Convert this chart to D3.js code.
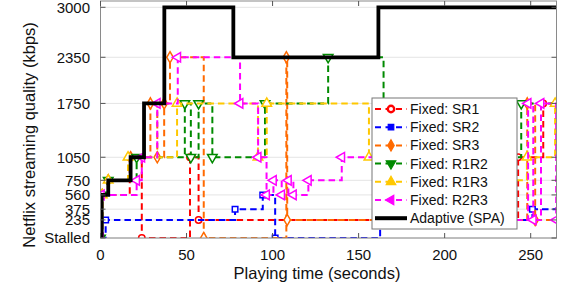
<!DOCTYPE html>
<html><head><meta charset="utf-8">
<script src="https://cdn.jsdelivr.net/npm/d3@7"></script>
<style>body{margin:0;background:#fff;} svg{display:block;font-family:"Liberation Sans",Arial,sans-serif;}</style>
</head><body><svg id="c" width="565" height="283"></svg>
<script>
// ---- data ----
const yTickValues = [0, 235, 375, 560, 750, 1050, 1750, 2350, 3000];
const yTickLabels = ["Stalled", "235", "375", "560", "750", "1050", "1750", "2350", "3000"];
const xTickValues = [0, 50, 100, 150, 200, 250];
const tEnd = 265;

const seriesNames = ["Fixed: SR1", "Fixed: SR2", "Fixed: SR3", "Fixed: R1R2", "Fixed: R1R3", "Fixed: R2R3", "Adaptive (SPA)"];

const sr1Times  = [0, 1, 17, 24, 52, 57, 242.7, 257.3];
const sr1Values = [0, 560, 1050, 0, 1050, 235, 1050, 1750];

const sr2Times  = [0, 3, 78.2, 94.3, 101.5, 162.5, 251];
const sr2Values = [0, 235, 375, 560, 0, 235, 375];

const sr3Times  = [0, 1, 4.5, 17.5, 29, 33, 37, 40.4, 60, 108, 108.5, 248, 252.6];
const sr3Values = [0, 560, 750, 1050, 1750, 1050, 1750, 2350, 0, 2350, 235, 1750, 235];

const r1r2Times  = [0, 1, 4.5, 21, 49, 52.5, 57, 65, 95.6, 132.3, 164.5, 200, 244.5];
const r1r2Values = [0, 560, 750, 1050, 1750, 1050, 1750, 1050, 1750, 2350, 1750, 1050, 1750];

const r1r3Times  = [0, 1, 4.5, 16, 44.5, 91.5, 96.6, 156, 200, 247.8, 264.2];
const r1r3Values = [0, 560, 750, 1050, 1750, 1050, 1750, 1050, 750, 1050, 1750];

const r2r3Times  = [0, 0.5, 21, 24, 33, 44.9, 81.1, 91.6, 96.5, 100.5, 105.3, 109.2, 112.1, 120.8, 140.2, 200, 248.5, 251.5, 256, 264.8];
const r2r3Values = [0, 560, 750, 1050, 1750, 2350, 1750, 1050, 560, 750, 560, 750, 560, 750, 1050, 235, 1750, 235, 1750, 235];

const spaTimes  = [0, 0.7, 4.5, 17.5, 25.3, 37.1, 77.2, 161.5];
const spaValues = [0, 560, 750, 1050, 1750, 3000, 2350, 3000];

const seriesColors = ["#ff0000", "#0000ff", "#ff6a00", "#008a00", "#ffc800", "#ff00ff", "#000000"];
const seriesSymbols = ["circle", "square", "diamond", "tdown", "tup", "tleft", null];

// ---- build ----
const series = [
  [sr1Times, sr1Values], [sr2Times, sr2Values], [sr3Times, sr3Values],
  [r1r2Times, r1r2Values], [r1r3Times, r1r3Values], [r2r3Times, r2r3Values],
  [spaTimes, spaValues]
].map((tv, i) => ({
  name: seriesNames[i], color: seriesColors[i], symbol: seriesSymbols[i],
  pts: tv[0].map((t, j) => ({t, v: tv[1][j]}))
}));

const svg = d3.select("#c");
const x = d3.scaleLinear().domain([0, tEnd]).range([100.5, 556.5]);
const y = d3.scaleLinear().domain([0, 3000]).range([238, 7.3]);
const pTop = 1, pBottom = y(0), pLeft = x(0), pRight = x(tEnd);

svg.append("defs").append("clipPath").attr("id", "clip")
  .append("rect").attr("x", pLeft).attr("y", pTop).attr("width", pRight - pLeft).attr("height", pBottom - pTop);

// grid
svg.append("g").selectAll("line").data(yTickValues).join("line")
  .attr("x1", pLeft).attr("x2", pRight).attr("y1", d => y(d)).attr("y2", d => y(d))
  .attr("stroke", "#e4e4e4").attr("stroke-width", 1);

function symbolPath(sym, size) {
  if (sym === "circle") return d3.symbol(d3.symbolCircle, size * 0.9)();
  if (sym === "square") return d3.symbol(d3.symbolSquare, size * 0.85)();
  if (sym === "diamond") return d3.symbol(d3.symbolDiamond, size)();
  return d3.symbol(d3.symbolTriangle, size * 1.1)();
}
function symbolRot(sym) {
  if (sym === "tdown") return 180;
  if (sym === "tleft") return -90;
  return 0;
}

const line = d3.line().x(d => x(d.t)).y(d => y(d.v)).curve(d3.curveStepAfter);
const plot = svg.append("g").attr("clip-path", "url(#clip)");

series.forEach(s => {
  const full = s.pts.concat([{t: tEnd, v: s.pts[s.pts.length - 1].v}]);
  const g = plot.append("g");
  g.append("path").attr("d", line(full)).attr("fill", "none")
    .attr("stroke", s.color)
    .attr("stroke-width", s.symbol ? 2 : 3.8)
    .attr("stroke-dasharray", s.symbol ? "6.5,4" : null);
  if (s.symbol) {
    g.selectAll("path.m").data(s.pts).join("path").attr("class", "m")
      .attr("d", symbolPath(s.symbol, 36))
      .attr("transform", d => `translate(${x(d.t)},${y(d.v)}) rotate(${symbolRot(s.symbol)})`)
      .attr("fill", "#fff").attr("stroke", s.color).attr("stroke-width", 1.5);
  }
});

// box
svg.append("rect").attr("x", pLeft).attr("y", pTop).attr("width", pRight - pLeft).attr("height", pBottom - pTop)
  .attr("fill", "none").attr("stroke", "#8a8a8a").attr("stroke-width", 1);

// x ticks
const xt = svg.append("g");
xTickValues.forEach(v => {
  xt.append("line").attr("x1", x(v)).attr("x2", x(v)).attr("y1", pBottom).attr("y2", pBottom - 5).attr("stroke", "#555");
  xt.append("line").attr("x1", x(v)).attr("x2", x(v)).attr("y1", pTop).attr("y2", pTop + 5).attr("stroke", "#555");
  xt.append("text").attr("x", x(v)).attr("y", 260).attr("text-anchor", "middle")
    .attr("font-size", 15).attr("fill", "#111").text(v);
});
// y ticks
const yt = svg.append("g");
yTickValues.forEach((v, i) => {
  yt.append("line").attr("x1", pLeft).attr("x2", pLeft + 5).attr("y1", y(v)).attr("y2", y(v)).attr("stroke", "#555");
  yt.append("line").attr("x1", pRight).attr("x2", pRight - 5).attr("y1", y(v)).attr("y2", y(v)).attr("stroke", "#555");
  yt.append("text").attr("x", 90).attr("y", y(v)).attr("dy", "0.36em").attr("text-anchor", "end")
    .attr("font-size", 15).attr("fill", "#111").text(yTickLabels[i]);
});

// titles
svg.append("text").attr("x", 317).attr("y", 278.5).attr("text-anchor", "middle")
  .attr("font-size", 16.5).attr("fill", "#111").text("Playing time (seconds)");
svg.append("text").attr("transform", "translate(35,135) rotate(-90)").attr("text-anchor", "middle")
  .attr("font-size", 16.5).attr("fill", "#111").text("Netflix streaming quality (kbps)");

// legend
const lg = svg.append("g");
lg.append("rect").attr("x", 372).attr("y", 98).attr("width", 145).attr("height", 131)
  .attr("fill", "#fff").attr("stroke", "#777").attr("stroke-width", 1);
series.forEach((s, i) => {
  const ly = 109 + i * 18.2;
  lg.append("line").attr("x1", 375).attr("x2", 407).attr("y1", ly).attr("y2", ly)
    .attr("stroke", s.color).attr("stroke-width", s.symbol ? 2 : 4)
    .attr("stroke-dasharray", s.symbol ? "6,4.5" : null);
  if (s.symbol) {
    lg.append("path").attr("d", symbolPath(s.symbol, 36))
      .attr("transform", `translate(391,${ly}) rotate(${symbolRot(s.symbol)})`)
      .attr("fill", s.symbol === "circle" ? "#fff" : s.color)
      .attr("stroke", s.color).attr("stroke-width", s.symbol === "circle" ? 2.4 : 1.2);
  }
  lg.append("text").attr("x", 410).attr("y", ly).attr("dy", "0.36em")
    .attr("font-size", 14).attr("fill", "#111").text(s.name);
});
</script></body></html>
